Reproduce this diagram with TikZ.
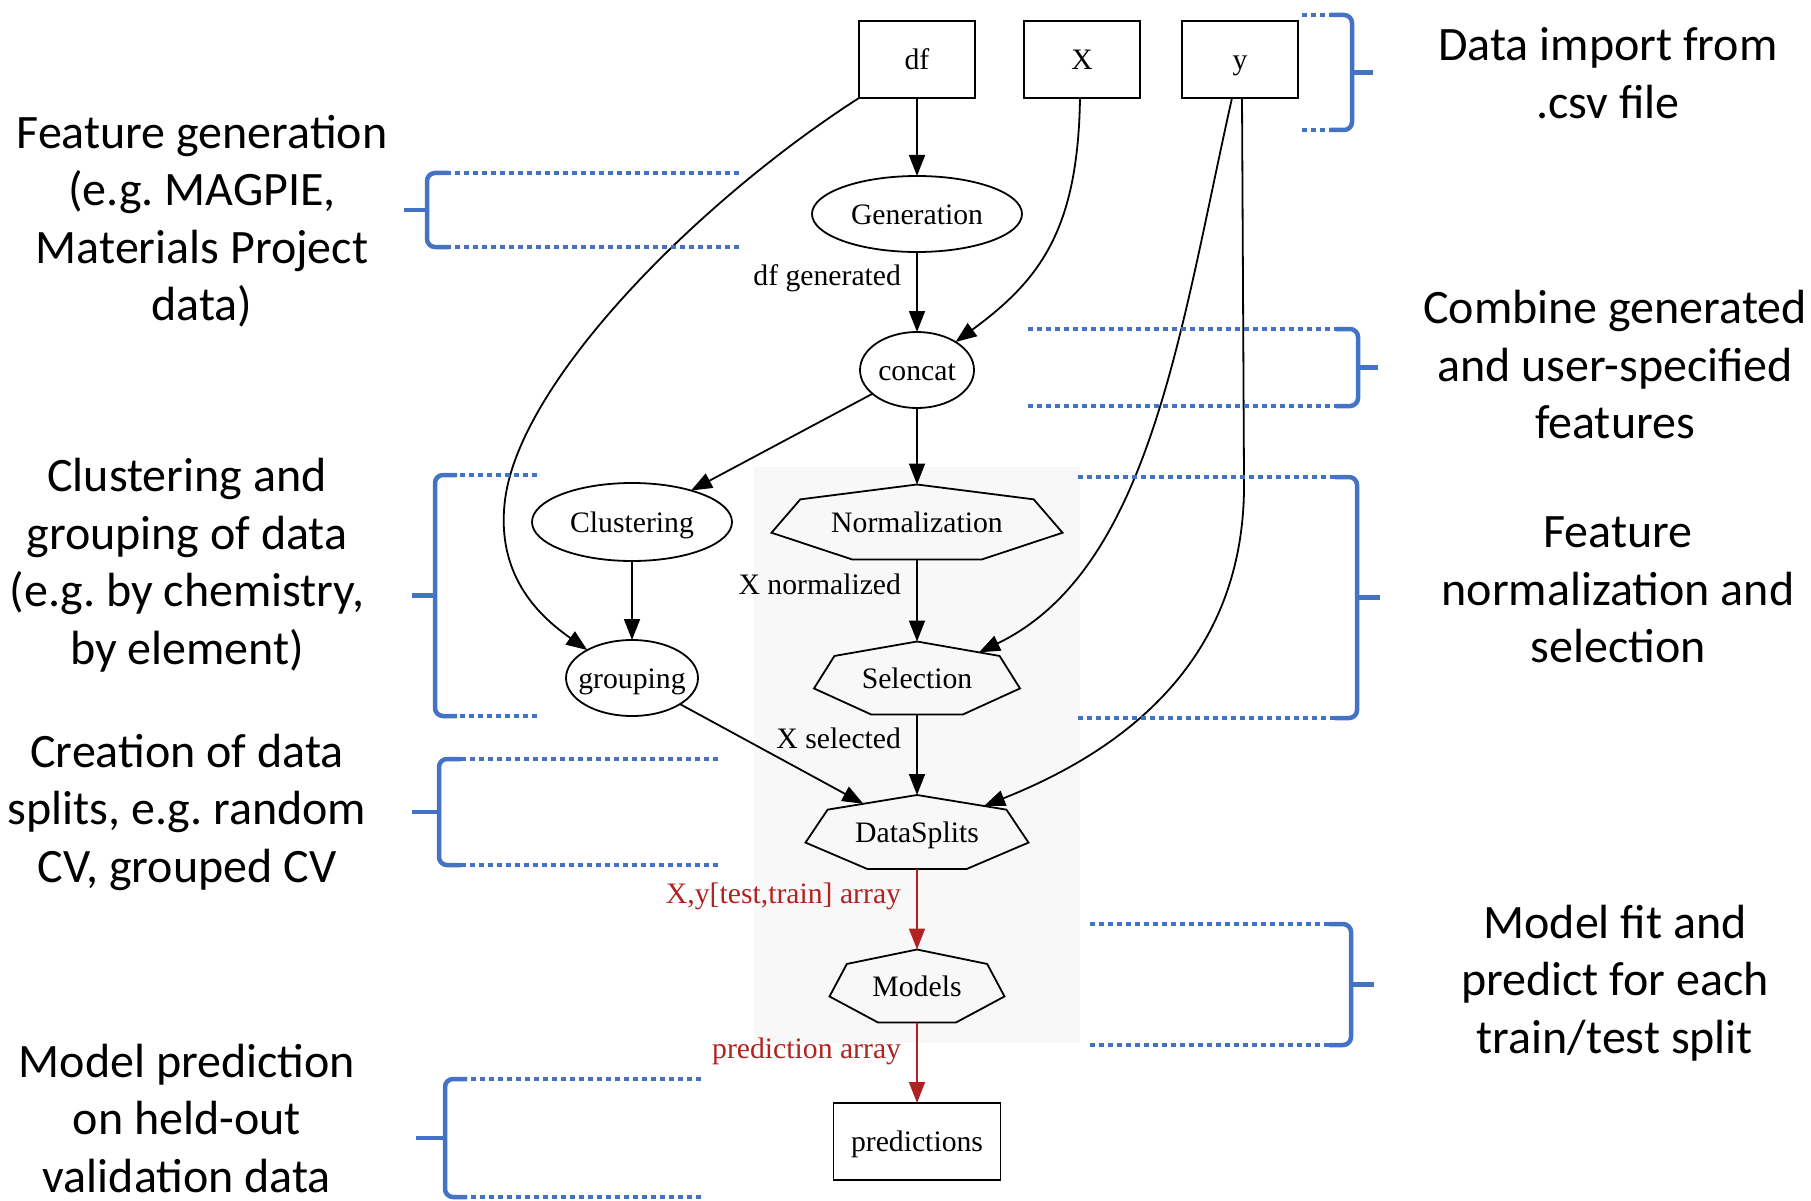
\documentclass[tikz,border=0pt]{standalone}
\usepackage{fontspec}
\setmainfont{Liberation Serif}
\newfontfamily\annfont{Carlito}
\usetikzlibrary{arrows.meta,calc,shapes.geometric}
\definecolor{annblue}{HTML}{4472C4}
\definecolor{gvred}{HTML}{B22222}
\definecolor{bggray}{RGB}{248,248,248}
\frenchspacing
\newcommand\septnode[6]{%
 \node[gvtext, minimum width=#4*2pt, minimum height=#5*2pt] (#1) at (#2,#3) {#6};
 \coordinate (#1-ul) at ({#2-0.802*#4},{#3-0.604*#5});
 \coordinate (#1-ur) at ({#2+0.802*#4},{#3-0.604*#5});
 \draw[gvline] (#1.north) -- (#1-ul) -- ({#2-#4},{#3+0.286*#5}) -- ({#2-0.445*#4},{#3+#5}) -- ({#2+0.445*#4},{#3+#5}) -- ({#2+#4},{#3+0.286*#5}) -- (#1-ur) -- cycle;
}
\newcommand\rbr[5]{%
 \draw[dotline] (#5,#2) -- ({#1-22},#2);
 \draw[dotline] (#5,#3) -- ({#1-22},#3);
 \draw[bracel] ({#1-22},#2) -- ({#1-8},#2) to[out=0,in=90] (#1,{#2+8}) -- (#1,{#3-8}) to[out=-90,in=0] ({#1-8},#3) -- ({#1-22},#3);
 \draw[bracel] (#1,{(#2+#3)/2}) -- (#4,{(#2+#3)/2});
}
\newcommand\lbr[5]{%
 \draw[dotline] (#5,#2) -- ({#1+22},#2);
 \draw[dotline] (#5,#3) -- ({#1+22},#3);
 \draw[bracel] ({#1+22},#2) -- ({#1+8},#2) to[out=180,in=90] (#1,{#2+8}) -- (#1,{#3-8}) to[out=-90,in=180] ({#1+8},#3) -- ({#1+22},#3);
 \draw[bracel] (#1,{(#2+#3)/2}) -- (#4,{(#2+#3)/2});
}
\begin{document}
\begin{tikzpicture}[x=1pt,y=-1pt,
  gvline/.style={line width=1.8pt, black},
  gvtext/.style={font=\fontsize{29.7}{34}\selectfont, inner sep=0pt, outer sep=0pt, text height=22pt, text depth=2pt},
  gvbox/.style={gvtext, draw, gvline, rectangle, minimum width=116pt, minimum height=77pt},
  gvell/.style={gvtext, draw, gvline, ellipse, inner sep=-12pt},
  gvedge/.style={gvline, -{Triangle[length=21pt,width=16pt]}},
  redge/.style={gvedge, draw=gvred, -{Triangle[length=21pt,width=16pt,fill=gvred]}},
  elabel/.style={gvtext, anchor=east},
  rlabel/.style={elabel, text=gvred},
  ann/.style={font=\annfont\fontsize{48}{57.5}\selectfont\frenchspacing, align=center, inner sep=0pt},
  dotline/.style={annblue, line width=4.5pt, dash pattern=on 5pt off 4pt},
  bracel/.style={annblue, line width=4.5pt}
]
\useasboundingbox (0,0) rectangle (1811,1201);
\fill[bggray] (754,467) rectangle (1080,1043);

% graph nodes
\node[gvbox] (ndf) at (917,59.5) {df};
\node[gvbox] (nX) at (1082,59.5) {X};
\node[gvbox] (ny) at (1240,59.5) {y};
\node[gvell, minimum width=210pt, minimum height=76pt] (gen) at (917,214) {Generation};
\node[gvell, minimum width=114pt, minimum height=76pt] (concat) at (917,370) {concat};
\node[gvell, minimum width=200pt, minimum height=78pt] (clust) at (632,522) {Clustering};
\node[gvell, minimum width=132pt, minimum height=76pt] (group) at (632,678) {grouping};
\septnode{norm}{917}{522}{145.5}{37.5}{Normalization}
\septnode{sel}{917}{678}{103}{36.5}{Selection}
\septnode{ds}{917}{832}{111.5}{37}{DataSplits}
\septnode{models}{917}{986}{87.5}{36.5}{Models}
\node[gvbox, minimum width=167pt] (pred) at (917,1141.5) {predictions};

% edges
\draw[gvedge] (ndf) -- (gen);
\draw[gvedge] (gen) -- (concat);
\draw[gvedge] (concat) -- (norm);
\draw[gvedge] (concat) -- (clust);
\draw[gvedge] (clust) -- (group);
\draw[gvedge] (norm) -- (sel);
\draw[gvedge] (sel) -- (ds);
\draw[redge] (ds) -- (models);
\draw[redge] (models) -- (pred);
\draw[gvedge] (group) -- ($(ds.north)!0.6!(ds-ul)$);
\draw[gvedge] (ndf.south west) .. controls (700,200) and (520,380) .. (505,500) .. controls (495,580) and (545,620) .. (group.148);
\draw[gvedge] ([xshift=-2pt]nX.south) .. controls (1078,230) and (1040,280) .. (concat.36);
\draw[gvedge] ([xshift=-8pt]ny.south) .. controls (1180,330) and (1150,570) .. ($(sel.north)!0.75!(sel-ur)$);
\draw[gvedge] ([xshift=2pt]ny.south) -- (1244,480) .. controls (1246,640) and (1150,740) .. ($(ds.north)!0.75!(ds-ur)$);

% edge labels
\node[elabel] (lgen) at (901,275) {df generated};
\node[elabel] (lnorm) at (901,584) {X normalized};
\node[elabel] (lsel) at (901,738) {X selected};
\node[rlabel] (lds) at (901,893) {X,y[test,train] array};
\node[rlabel] (lmod) at (901,1048) {prediction array};

% braces
\rbr{1352}{15}{130}{1373}{1302}
\rbr{1358}{329}{406}{1378}{1028}
\rbr{1357}{477}{718}{1380}{1078}
\rbr{1351}{924}{1045}{1374}{1090}
\lbr{427}{173}{247}{404}{739}
\lbr{435}{475}{716}{412}{537}
\lbr{439}{759}{865}{412}{718}
\lbr{445}{1079}{1197}{416}{701}

% annotations
\node[ann] (a1) at (202,221) {Feature generation\\(e.g. MAGPIE,\\Materials Project\\data)};
\node[ann] (a2) at (187,565) {Clustering and\\grouping of data\\(e.g. by chemistry,\\by element)};
\node[ann] (a3) at (187,812) {Creation of data\\splits, e.g. random\\CV, grouped CV};
\node[ann] (a4) at (187,1118) {Model prediction\\on held-out\\validation data};
\node[ann] (a5) at (1608,73) {Data import from\\.csv file};
\node[ann] (a6) at (1615,365) {Combine generated\\and user-specified\\features};
\node[ann] (a7) at (1618,590) {Feature\\normalization and\\selection};
\node[ann] (a8) at (1615,983) {Model fit and\\predict for each\\train/test split};
\end{tikzpicture}
\end{document}
